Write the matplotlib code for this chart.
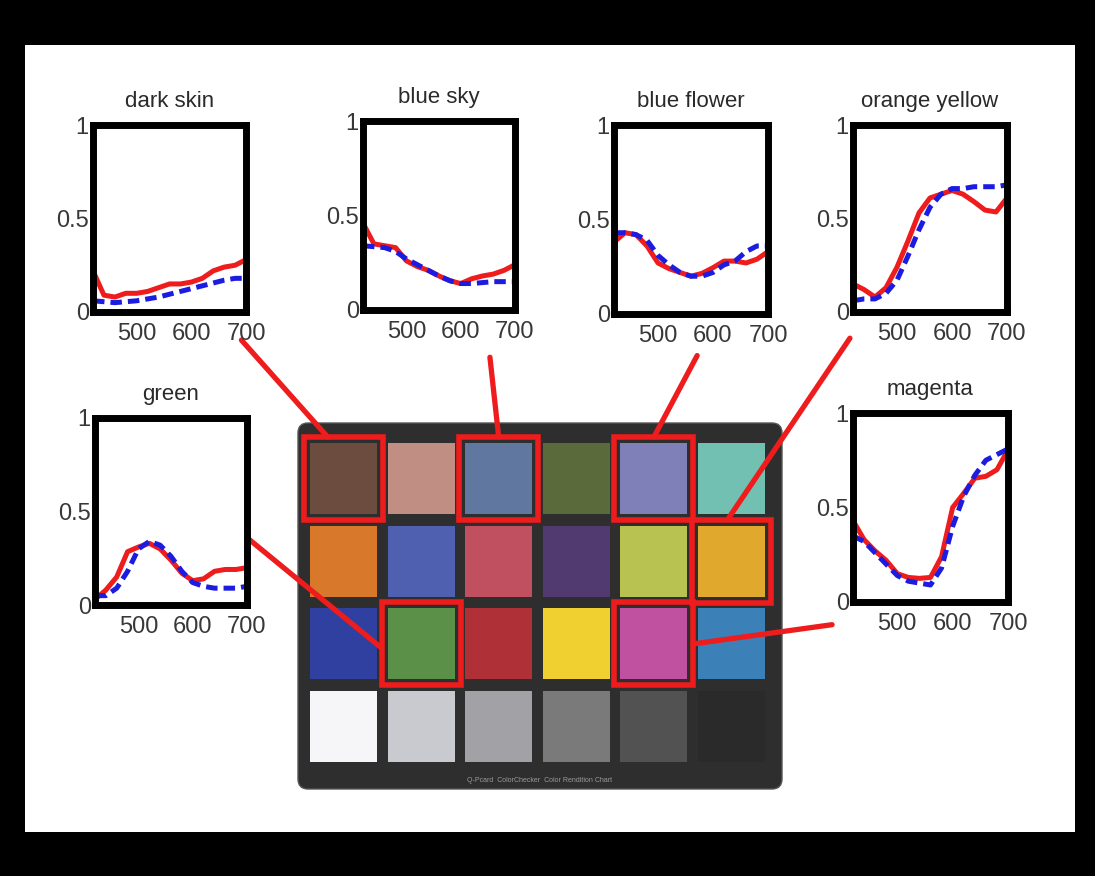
import matplotlib
matplotlib.use("Agg")
import matplotlib.pyplot as plt
from matplotlib.patches import Rectangle, FancyBboxPatch, ConnectionPatch

plt.rcParams['font.family'] = ['Liberation Sans', 'DejaVu Sans']

W, H = 1095, 876

# wavelength grid (nm)
wavelengths = [420, 440, 460, 480, 500, 520, 540, 560, 580, 600, 620, 640, 660, 680, 700]

# red = measured, blue = estimated reflectance
dark_skin_red = [0.22, 0.09, 0.08, 0.10, 0.10, 0.11, 0.13, 0.15, 0.15, 0.16, 0.18, 0.22, 0.24, 0.25, 0.28]
dark_skin_blue = [0.06, 0.055, 0.05, 0.055, 0.06, 0.07, 0.08, 0.095, 0.11, 0.125, 0.14, 0.155, 0.17, 0.18, 0.18]
blue_sky_red = [0.46, 0.35, 0.34, 0.33, 0.26, 0.23, 0.21, 0.18, 0.155, 0.14, 0.165, 0.18, 0.19, 0.21, 0.24]
blue_sky_blue = [0.34, 0.335, 0.33, 0.31, 0.27, 0.24, 0.21, 0.18, 0.155, 0.14, 0.14, 0.145, 0.15, 0.15, 0.15]
blue_flower_red = [0.38, 0.43, 0.42, 0.36, 0.27, 0.24, 0.22, 0.20, 0.215, 0.245, 0.28, 0.28, 0.27, 0.29, 0.33]
blue_flower_blue = [0.43, 0.43, 0.42, 0.39, 0.31, 0.26, 0.22, 0.20, 0.20, 0.22, 0.26, 0.28, 0.33, 0.36, 0.36]
orange_yellow_red = [0.15, 0.12, 0.08, 0.13, 0.24, 0.38, 0.53, 0.61, 0.63, 0.65, 0.63, 0.59, 0.545, 0.535, 0.61]
orange_yellow_blue = [0.06, 0.07, 0.07, 0.10, 0.17, 0.30, 0.44, 0.56, 0.63, 0.66, 0.66, 0.67, 0.67, 0.67, 0.68]
green_red = [0.03, 0.08, 0.15, 0.285, 0.31, 0.33, 0.30, 0.24, 0.17, 0.13, 0.14, 0.18, 0.19, 0.19, 0.20]
green_blue = [0.05, 0.05, 0.09, 0.18, 0.30, 0.34, 0.32, 0.26, 0.18, 0.12, 0.10, 0.09, 0.09, 0.09, 0.10]
magenta_red = [0.43, 0.33, 0.27, 0.22, 0.15, 0.13, 0.125, 0.13, 0.24, 0.50, 0.575, 0.655, 0.665, 0.70, 0.805]
magenta_blue = [0.35, 0.32, 0.26, 0.20, 0.14, 0.11, 0.10, 0.09, 0.18, 0.40, 0.56, 0.67, 0.75, 0.78, 0.81]

x_ticks = [500, 600, 700]
y_ticks = [0, 0.5, 1]
y_tick_labels = ['0', '0.5', '1']

# color checker patches, row by row
checker_colors = [
    ['#6b4c3f', '#c08e82', '#6078a0', '#5a6a3a', '#8080b8', '#72c0b2'],
    ['#d8782a', '#5060b0', '#c05060', '#503a70', '#b8c250', '#e0a82c'],
    ['#3040a0', '#5a9048', '#b03038', '#f0d030', '#c050a0', '#3c80b8'],
    ['#f6f6f8', '#c8cad0', '#a2a2a6', '#7a7a7a', '#525252', '#2a2a2a'],
]

# name, measured, estimated, checker (row, col)
panels = [
    ('dark skin', dark_skin_red, dark_skin_blue, (0, 0)),
    ('blue sky', blue_sky_red, blue_sky_blue, (0, 2)),
    ('blue flower', blue_flower_red, blue_flower_blue, (0, 4)),
    ('orange yellow', orange_yellow_red, orange_yellow_blue, (1, 5)),
    ('green', green_red, green_blue, (2, 1)),
    ('magenta', magenta_red, magenta_blue, (2, 4)),
]

# axes boxes in pixels: left, top, right, bottom
boxes = [
    (93, 125, 246, 312),
    (363, 121, 515, 310),
    (614, 125, 768, 314),
    (853, 125, 1007, 312),
    (95, 418, 247, 605),
    (853, 413, 1008, 602),
]
# where each red leader leaves the plot (axes fraction) and where it hits the red box
leader_start = [(0.97, -0.15), (0.835, -0.25), (0.54, -0.22), (-0.02, -0.14), (1.0, 0.36), (-0.135, -0.12)]
leader_end = [(0.3, 'top'), (0.5, 'top'), (0.5, 'top'), (0.45, 'top'), (0.55, 'left'), (0.5, 'right')]

RED = '#ee1c1c'
BLUE = '#1c1ce0'

fig = plt.figure(figsize=(W / 100, H / 100), dpi=100, facecolor='black')

# full-figure pixel axes for background, checker and leaders
bg = fig.add_axes([0, 0, 1, 1], zorder=0)
bg.set_xlim(0, W)
bg.set_ylim(H, 0)
bg.axis('off')
bg.add_patch(Rectangle((25, 45), 1050, 787, facecolor='white', edgecolor='none'))

# checker board
bg.add_patch(FancyBboxPatch((300, 425), 480, 362, boxstyle='round,pad=2,rounding_size=10',
                            facecolor='#2e2e2e', edgecolor='#555555', lw=1))
px0, py0, pitch_x, pitch_y, pw, ph = 310, 443, 77.6, 82.7, 67, 71
for r, row in enumerate(checker_colors):
    for c, col in enumerate(row):
        bg.add_patch(Rectangle((px0 + c * pitch_x, py0 + r * pitch_y), pw, ph,
                               facecolor=col, edgecolor='none'))
bg.text(540, 780, 'Q-Pcard  ColorChecker  Color Rendition Chart', color='#9a9a9a',
        fontsize=5, ha='center', va='center')

pad = 6
for i, (name, red, blue, (r, c)) in enumerate(panels):
    l, t, rr, b = boxes[i]
    ax = fig.add_axes([l / W, 1 - b / H, (rr - l) / W, (b - t) / H], zorder=2)
    ax.plot(wavelengths, red, color=RED, lw=3.6, solid_capstyle='round', solid_joinstyle='round')
    ax.plot(wavelengths, blue, color=BLUE, lw=3.6, linestyle=(0, (2.3, 1.2)))
    ax.set_xlim(420, 700)
    ax.set_ylim(0, 1)
    ax.set_xticks(x_ticks)
    ax.set_xticklabels([str(v) for v in x_ticks])
    ax.set_yticks(y_ticks)
    ax.set_yticklabels(y_tick_labels)
    ax.tick_params(length=0, labelsize=17, labelcolor='#383838')
    ax.tick_params(axis='x', pad=8)
    ax.tick_params(axis='y', pad=3)
    for s in ax.spines.values():
        s.set_linewidth(5)
        s.set_color('black')
    ax.set_title(name, fontsize=16, color='#2a2a2a', pad=13)

    # red frame around the matching checker patch
    bx = px0 + c * pitch_x - pad
    by = py0 + r * pitch_y - pad
    bw, bh = pw + 2 * pad, ph + 2 * pad
    bg.add_patch(Rectangle((bx, by), bw, bh, facecolor='none', edgecolor=RED, lw=4, zorder=3))

    frac, side = leader_end[i]
    if side == 'top':
        end = (bx + frac * bw, by)
    elif side == 'left':
        end = (bx, by + frac * bh)
    else:
        end = (bx + bw, by + frac * bh)
    con = ConnectionPatch(xyA=leader_start[i], coordsA=ax.transAxes, xyB=end, coordsB=bg.transData,
                          color=RED, lw=3.8, zorder=1)
    fig.add_artist(con)

fig.savefig('out.png', dpi=100, facecolor='black')
